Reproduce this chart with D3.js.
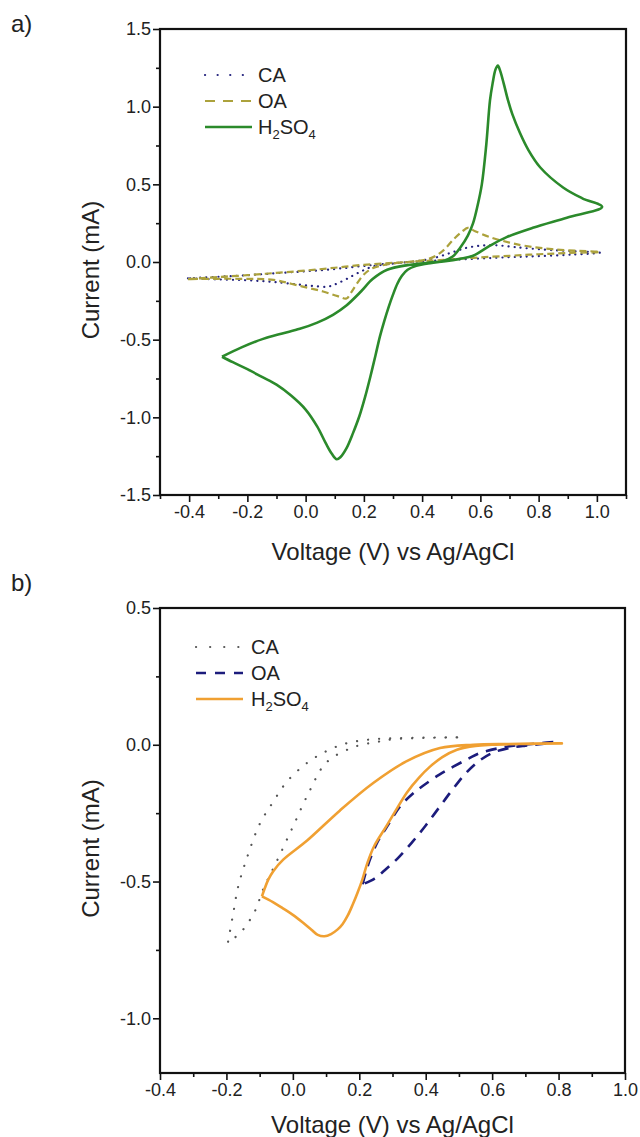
<!DOCTYPE html>
<html>
<head>
<meta charset="utf-8">
<script src="https://cdn.jsdelivr.net/npm/d3@7"></script>
<style>
body { margin: 0; background: #fff; }
svg { display: block; font-family: "Liberation Sans", Arial, sans-serif; }
</style>
</head>
<body>
<svg id="chart" width="640" height="1137"></svg>
<script>
// ---- panel a: cyclic voltammograms ----
const aXTicks = [-0.4, -0.2, 0.0, 0.2, 0.4, 0.6, 0.8, 1.0]
const aXMinor = [-0.5, -0.3, -0.1, 0.1, 0.3, 0.5, 0.7, 0.9, 1.1]
const aYTicks = [-1.5, -1.0, -0.5, 0.0, 0.5, 1.0, 1.5]
const aYMinor = [-1.25, -0.75, -0.25, 0.25, 0.75, 1.25]

const aCA_v = [-0.404, -0.3, -0.2, -0.1, 0.0, 0.1, 0.2, 0.3, 0.38, 0.44, 0.5, 0.55, 0.6, 0.65, 0.7, 0.75, 0.86, 1.01,
  0.92, 0.8, 0.69, 0.52, 0.4, 0.3, 0.23, 0.18, 0.14, 0.1, 0.073, 0.03, 0.0, -0.1, -0.2, -0.3, -0.404]
const aCA_i = [-0.105, -0.095, -0.085, -0.072, -0.06, -0.045, -0.025, -0.008, 0.005, 0.025, 0.06, 0.09, 0.105, 0.108, 0.1, 0.09, 0.075, 0.06,
  0.048, 0.038, 0.03, 0.016, 0.005, -0.01, -0.03, -0.07, -0.11, -0.145, -0.16, -0.155, -0.15, -0.13, -0.118, -0.112, -0.105]

const aOA_v = [-0.404, -0.3, -0.2, -0.1, 0.0, 0.1, 0.2, 0.3, 0.38, 0.43, 0.47, 0.51, 0.54, 0.557, 0.58, 0.633, 0.7, 0.75, 0.86, 1.01,
  0.9, 0.8, 0.7, 0.575, 0.46, 0.35, 0.28, 0.23, 0.2, 0.176, 0.155, 0.14, 0.11, 0.06, 0.005, -0.05, -0.11, -0.225, -0.404]
const aOA_i = [-0.11, -0.097, -0.085, -0.07, -0.055, -0.037, -0.018, -0.005, 0.005, 0.025, 0.07, 0.15, 0.2, 0.22, 0.2, 0.16, 0.125, 0.105, 0.08, 0.065,
  0.058, 0.05, 0.04, 0.027, 0.012, 0.0, -0.015, -0.04, -0.08, -0.14, -0.2, -0.235, -0.22, -0.19, -0.165, -0.14, -0.115, -0.108, -0.11]

const aH2_v = [-0.287, -0.22, -0.146, -0.08, -0.02, 0.04, 0.094, 0.14, 0.19, 0.23, 0.28, 0.35, 0.42, 0.48, 0.53, 0.575, 0.633, 0.69, 0.78, 0.897, 1.018,
  0.95, 0.884, 0.805, 0.765, 0.736, 0.71, 0.695, 0.68, 0.668, 0.66,
  0.652, 0.642, 0.633, 0.62, 0.605, 0.59, 0.575, 0.557, 0.53, 0.505, 0.47, 0.42, 0.38, 0.35, 0.33, 0.315, 0.3, 0.285, 0.27, 0.255, 0.24, 0.222,
  0.204, 0.185, 0.163, 0.14, 0.12, 0.107, 0.09, 0.07, 0.04, 0.0, -0.05, -0.1, -0.15, -0.2, -0.25, -0.287]
const aH2_i = [-0.61, -0.55, -0.495, -0.46, -0.43, -0.39, -0.34, -0.28, -0.19, -0.11, -0.05, -0.02, -0.005, 0.005, 0.02, 0.04, 0.105, 0.16, 0.22, 0.285, 0.355,
  0.41, 0.48, 0.61, 0.72, 0.83, 0.95, 1.04, 1.15, 1.23, 1.265,
  1.24, 1.15, 1.04, 0.75, 0.5, 0.36, 0.25, 0.17, 0.09, 0.035, 0.005, -0.01, -0.025, -0.05, -0.09, -0.14, -0.21, -0.29, -0.38, -0.48, -0.6, -0.74,
  -0.87, -0.99, -1.10, -1.2, -1.255, -1.27, -1.235, -1.17, -1.06, -0.95, -0.86, -0.79, -0.74, -0.69, -0.645, -0.61]

// ---- panel b: linear sweeps ----
const bXTicks = [-0.4, -0.2, 0.0, 0.2, 0.4, 0.6, 0.8, 1.0]
const bXMinor = [-0.3, -0.1, 0.1, 0.3, 0.5, 0.7, 0.9]
const bYTicks = [-1.0, -0.5, 0.0, 0.5]
const bYMinor = [-0.75, -0.25, 0.25]

const bCA_v = [-0.195, -0.18, -0.165, -0.14, -0.1, -0.06, -0.018, 0.043, 0.1, 0.163, 0.24, 0.34, 0.51,
  0.4, 0.3, 0.26, 0.18, 0.1, 0.05, 0.0, -0.05, -0.09, -0.115, -0.16, -0.195]
const bCA_i = [-0.72, -0.62, -0.52, -0.42, -0.29, -0.21, -0.135, -0.066, -0.024, 0.006, 0.02, 0.025, 0.027,
  0.025, 0.02, 0.012, -0.01, -0.066, -0.17, -0.30, -0.43, -0.53, -0.61, -0.69, -0.72]

const bOA_v = [0.21, 0.22, 0.232, 0.255, 0.283, 0.323, 0.36, 0.392, 0.44, 0.483, 0.53, 0.564, 0.644, 0.72, 0.785,
  0.75, 0.7, 0.65, 0.6, 0.56, 0.52, 0.48, 0.44, 0.4, 0.36, 0.32, 0.28, 0.245, 0.21]
const bOA_i = [-0.51, -0.465, -0.42, -0.355, -0.30, -0.225, -0.18, -0.15, -0.11, -0.08, -0.05, -0.03, -0.007, 0.003, 0.01,
  0.003, -0.003, -0.012, -0.03, -0.06, -0.105, -0.165, -0.23, -0.295, -0.355, -0.41, -0.455, -0.49, -0.51]

const bH2_v = [-0.093, -0.084, -0.074, -0.059, -0.029, 0.043, 0.142, 0.242, 0.343, 0.443, 0.543, 0.65, 0.81,
  0.7, 0.6, 0.55, 0.494, 0.45, 0.413, 0.38, 0.343, 0.31, 0.283, 0.245, 0.225, 0.21, 0.195, 0.18, 0.165, 0.15, 0.135,
  0.115, 0.095, 0.075, 0.055, 0.03, 0.0, -0.03, -0.06, -0.093]
const bH2_i = [-0.554, -0.523, -0.493, -0.462, -0.42, -0.35, -0.24, -0.14, -0.06, -0.012, 0.0, 0.003, 0.005,
  0.003, 0.0, -0.004, -0.018, -0.045, -0.08, -0.12, -0.175, -0.24, -0.295, -0.37, -0.43, -0.49, -0.54, -0.585, -0.625, -0.655, -0.675,
  -0.692, -0.70, -0.695, -0.675, -0.65, -0.622, -0.598, -0.575, -0.554]

const fmt = d => d.toFixed(1)
const svg = d3.select('#chart')

function panel(o) {
  const x = d3.scaleLinear().domain(o.xDomain).range([o.left, o.right])
  const y = d3.scaleLinear().domain(o.yDomain).range([o.bottom, o.top])
  const g = svg.append('g')

  // x axis, major + minor
  g.append('g').attr('transform', `translate(0,${o.bottom})`)
    .call(d3.axisBottom(x).tickValues(o.xTicks).tickSize(7).tickPadding(3).tickFormat(fmt))
    .call(a => a.select('.domain').remove())
  g.append('g').attr('transform', `translate(0,${o.bottom})`)
    .call(d3.axisBottom(x).tickValues(o.xMinor).tickSize(4).tickFormat(''))
    .call(a => a.select('.domain').remove())
  g.append('g').attr('transform', `translate(${o.left},0)`)
    .call(d3.axisLeft(y).tickValues(o.yTicks).tickSize(7).tickPadding(2).tickFormat(fmt))
    .call(a => a.select('.domain').remove())
  g.append('g').attr('transform', `translate(${o.left},0)`)
    .call(d3.axisLeft(y).tickValues(o.yMinor).tickSize(4).tickFormat(''))
    .call(a => a.select('.domain').remove())
  g.selectAll('.tick line').attr('stroke', '#111').attr('stroke-width', 1.6)
  g.selectAll('.tick text').attr('font-size', 18).attr('fill', '#222')
    .attr('font-family', '"Liberation Sans", Arial, sans-serif')

  const line = d3.line().x(d => x(d[0])).y(d => y(d[1])).curve(d3.curveCatmullRom.alpha(0.5))
  o.series.forEach(s => {
    g.append('path')
      .datum(s.v.map((v, i) => [v, s.i[i]]))
      .attr('d', line)
      .attr('fill', 'none')
      .attr('stroke', s.color)
      .attr('stroke-width', s.width)
      .attr('stroke-dasharray', s.dash)
      .attr('stroke-linecap', s.cap || 'butt')
      .attr('stroke-linejoin', 'round')
  })

  g.append('rect')
    .attr('x', o.left).attr('y', o.top)
    .attr('width', o.right - o.left).attr('height', o.bottom - o.top)
    .attr('fill', 'none').attr('stroke', '#111').attr('stroke-width', 2.2)

  // legend
  const lg = g.append('g').selectAll('g')
    .data(o.series)
    .enter().append('g')
    .attr('transform', (d, i) => `translate(${o.legX},${o.legY + i * 26})`)
  lg.append('line')
    .attr('x1', 0).attr('x2', 47)
    .attr('stroke', d => d.color)
    .attr('stroke-width', d => d.width)
    .attr('stroke-dasharray', d => d.legDash)
    .attr('stroke-linecap', d => d.cap || 'butt')
  lg.append('text')
    .attr('x', o.legText).attr('y', 7)
    .attr('font-size', 20).attr('fill', '#222')
    .each(function (d) {
      const t = d3.select(this)
      if (d.name === 'H2SO4') {
        t.append('tspan').text('H')
        t.append('tspan').attr('dy', 5).attr('font-size', 13).text('2')
        t.append('tspan').attr('dy', -5).text('SO')
        t.append('tspan').attr('dy', 5).attr('font-size', 13).text('4')
      } else t.text(d.name)
    })

  // titles
  svg.append('text')
    .attr('transform', `translate(99,${(o.top + o.bottom) / 2 + 8}) rotate(-90)`)
    .attr('text-anchor', 'middle').attr('font-size', 24).attr('fill', '#222')
    .text('Current (mA)')
  svg.append('text')
    .attr('x', (o.left + o.right) / 2).attr('y', o.xTitleY)
    .attr('text-anchor', 'middle').attr('font-size', 24).attr('fill', '#222')
    .text('Voltage (V) vs Ag/AgCl')
  svg.append('text')
    .attr('x', 11).attr('y', o.labelY)
    .attr('font-size', 24).attr('fill', '#222')
    .text(o.label)
}

panel({
  label: 'a)', labelY: 32,
  left: 160, right: 626, top: 29, bottom: 495, xTitleY: 560,
  xDomain: [-0.5, 1.1], yDomain: [-1.5, 1.5],
  xTicks: aXTicks, xMinor: aXMinor, yTicks: aYTicks, yMinor: aYMinor,
  legX: 205, legY: 75, legText: 53,
  series: [
    {name: 'CA', v: aCA_v, i: aCA_i, color: '#24237e', width: 2.2, dash: '0.1,6', legDash: '0.1,12.5', cap: 'round'},
    {name: 'OA', v: aOA_v, i: aOA_i, color: '#aca23c', width: 2.2, dash: '7,4', legDash: '10,8'},
    {name: 'H2SO4', v: aH2_v, i: aH2_i, color: '#2b8a2b', width: 2.6, dash: null, legDash: null}
  ]
})

panel({
  label: 'b)', labelY: 591,
  left: 160, right: 625, top: 608, bottom: 1073, xTitleY: 1133,
  xDomain: [-0.4, 1.0], yDomain: [-1.2, 0.5],
  xTicks: bXTicks, xMinor: bXMinor, yTicks: bYTicks, yMinor: bYMinor,
  legX: 196, legY: 647, legText: 55,
  series: [
    {name: 'CA', v: bCA_v, i: bCA_i, color: '#555555', width: 2.2, dash: '0.1,11', legDash: '0.1,14', cap: 'round'},
    {name: 'OA', v: bOA_v, i: bOA_i, color: '#1c1c7c', width: 2.6, dash: '11,8', legDash: '10,9'},
    {name: 'H2SO4', v: bH2_v, i: bH2_i, color: '#f0a032', width: 2.6, dash: null, legDash: null}
  ]
})
</script>
</body>
</html>
